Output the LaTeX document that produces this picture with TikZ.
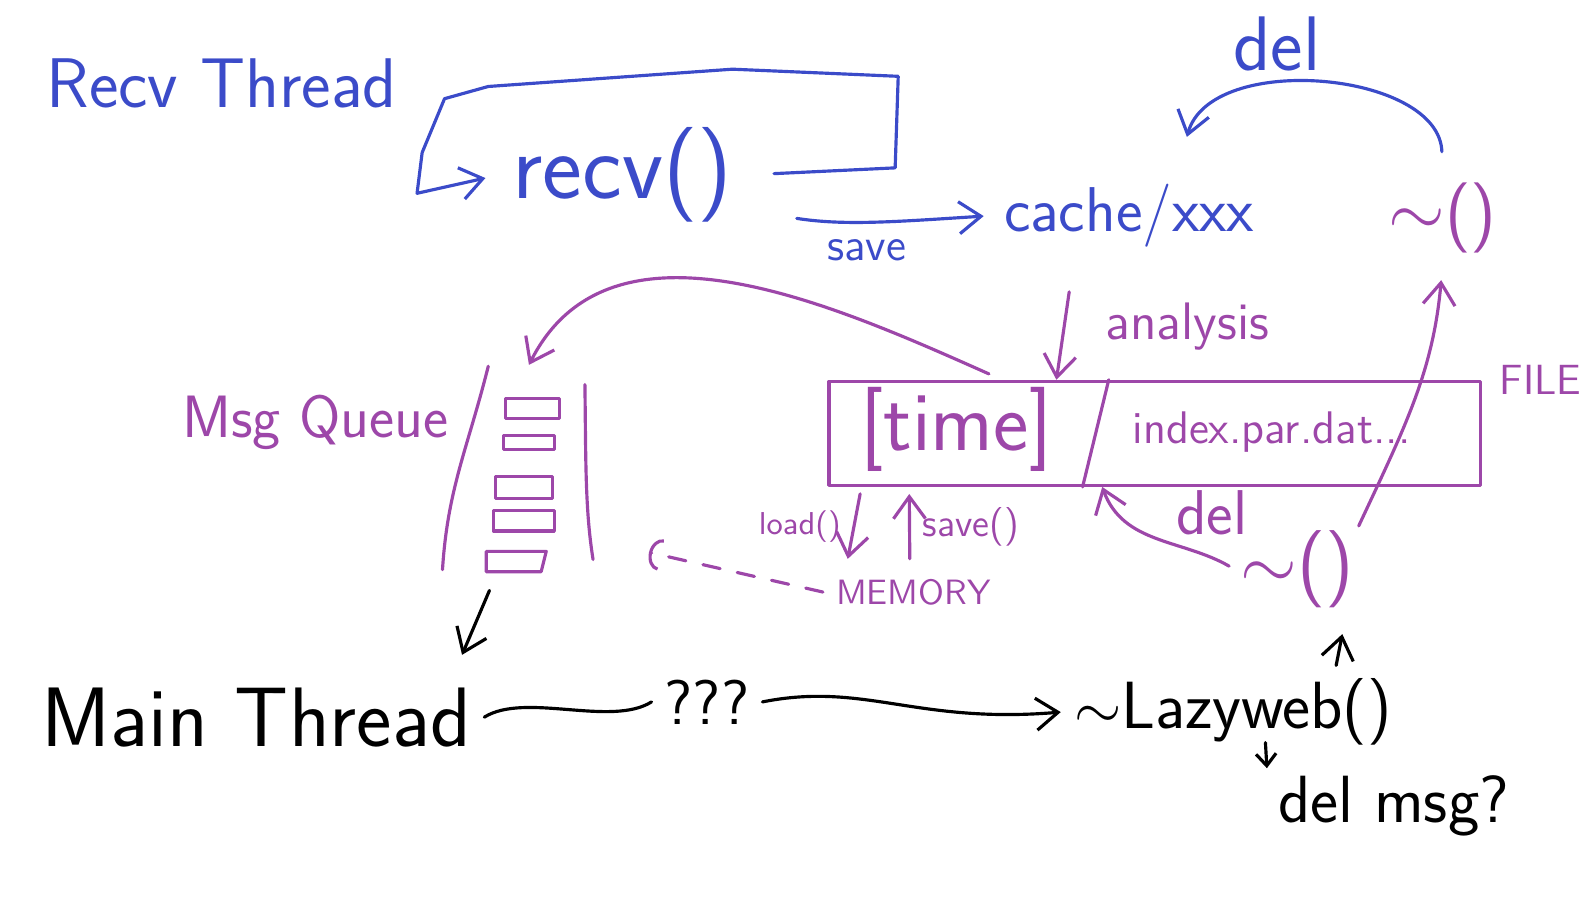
\documentclass[tikz,border=0pt]{standalone}
\usepackage{tikz}
\usetikzlibrary{positioning,arrows.meta,calc}
\usepackage{xcolor}
\definecolor{penblue}{HTML}{3B4BC9}
\definecolor{penpurple}{HTML}{9D47A9}
\newcommand{\fsz}[1]{\fontsize{#1}{#1}\selectfont}
\tikzset{
  >={Straight Barb[length=2.2mm,width=3.2mm]},
  bluepen/.style={draw=penblue, text=penblue},
  purplepen/.style={draw=penpurple, text=penpurple},
  inkpen/.style={draw=black, text=black},
  bluetext/.style={text=penblue},
  purpletext/.style={text=penpurple},
  inktext/.style={text=black},
}

\begin{document}
\begin{tikzpicture}[
  x=0.10172mm, y=-0.10172mm,
  line width=0.9pt, line cap=round, line join=round,
  every node/.style={font=\sffamily},
]
\useasboundingbox (0,0) rectangle (1568,900);

% recv thread
\node[bluetext, font=\sffamily\fsz{20}] (recvthread) at (218,82) {Recv Thread};
\node[bluetext, font=\sffamily\fsz{27}] (recv) at (612,172) {recv()};
\node[bluetext, font=\sffamily\fsz{18}] (cache) at (1110,212) {cache/xxx};
\node[purpletext, font=\sffamily\fsz{20}] (dtorup) at (1418,214) {$\sim$()};

\draw[bluepen,->,shorten <=8pt,shorten >=4pt] (recv.east) -- (880,165) -- (883,75) -- (720,68) -- (480,85) -- (437,97) -- (415,150) -- (410,190) -- (recv.west);
\draw[bluepen,->,shorten >=2pt] ($(recv.south east)+(50,-17)$) .. controls (830,222) and (880,218) .. (cache.west)
  node[pos=0.45, below=1pt, font=\sffamily\fsz{13}] {save};
\draw[bluepen,->,shorten <=5pt,shorten >=10pt] (dtorup.north) .. controls (1415,70) and (1190,50) .. ($(cache.north)!0.35!(cache.north east)$)
  node[pos=0.62, above=2pt, font=\sffamily\fsz{22}] {del};

% msg queue
\node[purpletext, font=\sffamily\fsz{17}] (msgqueue) at (310,415) {Msg Queue};
\node[minimum width=15.3mm, minimum height=20.3mm] (queue) at (520,460) {};
\draw[purplepen] (480,360) .. controls (460,440) and (440,480) .. (435,560);
\draw[purplepen] (575,378) .. controls (576,450) and (575,500) .. (583,550);
\draw[purplepen] (497,392) rectangle (550,411);
\draw[purplepen] (495,428) rectangle (545,442);
\draw[purplepen] (487,468) rectangle (543,490);
\draw[purplepen] (485,502) rectangle (545,522);
\draw[purplepen] (478,542) -- (537,542) -- (532,562) -- (478,562) -- cycle;

% file
\node[draw=penpurple, minimum width=65.1mm, minimum height=10.4mm] (file) at (1135,426) {};
\node[purpletext, font=\sffamily\fsz{24}] (time) at (940,422) {[time]};
\node[purpletext, font=\sffamily\fsz{13}] (index) at (1250,425) {index.par.dat...};
\node[purpletext, font=\sffamily\fsz{12}, right=0.5mm of file.north east] (filelabel) {FILE};
\draw[purplepen] ($(file.south west)!0.39!(file.south east)$) -- ($(file.north west)!0.43!(file.north east)$);

\draw[purplepen,->,shorten <=9pt] ($(cache.south west)!0.3!(cache.south east)$) -- ($(file.north west)!0.35!(file.north east)$)
  node[pos=0.55, right=8pt, font=\sffamily\fsz{15}] {analysis};
\draw[purplepen,->] ($(time.north)!0.3!(time.north east)$) .. controls (820,300) and (600,200) .. (queue.north);

% memory
\node[purpletext, font=\sffamily\fsz{10}] (memory) at (898,582) {MEMORY};
\coordinate (qnear) at (638,543);
\draw[purplepen,->,shorten >=2pt,shorten <=2pt] ($(file.south west)!0.052!(file.south east)$) -- ($(memory.north west)!0.13!(memory.north east)$)
  node[midway, left, font=\sffamily\fsz{9}] {load()};
\draw[purplepen,->,shorten >=2pt,shorten <=2pt] ($(memory.north west)!0.48!(memory.north east)$) -- ($(file.south west)!0.125!(file.south east)$)
  node[midway, right, font=\sffamily\fsz{11}] {save()};
\draw[purplepen, dash pattern=on 5pt off 5pt, -{Arc Barb[length=1.2mm,width=3.2mm]}] (memory.west) -- (qnear);

% destructor
\node[purpletext, font=\sffamily\fsz{22}, inner sep=1pt] (dtorlow) at (1275,560) {$\sim$()};
\draw[purplepen,->,shorten <=2pt] (dtorlow.west) to[out=150,in=-70]
  node[pos=0.42, above right=1pt, font=\sffamily\fsz{18}, inner sep=1pt] {del} ($(file.south west)!0.42!(file.south east)$);
\draw[purplepen,->,shorten >=4pt] (dtorlow.north east) to[out=65,in=-95] (dtorup.south);

% main thread
\node[inktext, font=\sffamily\fsz{24}] (mainthread) at (252,705) {Main Thread};
\node[inktext, font=\sffamily\fsz{18}] (huh) at (695,690) {???};
\node[inktext, font=\sffamily\fsz{19}] (lazyweb) at (1212,700) {$\sim$Lazyweb()};
\node[inktext, font=\sffamily\fsz{19}] (delmsg) at (1370,792) {del msg?};
\coordinate (tick) at (1244,730);

\draw[inkpen,->,shorten <=6pt,shorten >=6pt] ($(queue.south west)!0.3!(queue.south east)$) -- ($(mainthread.north east)+(-30,0)$);
\draw[inkpen] (mainthread.east) .. controls +(40,-25) and +(-40,25) .. (huh.west);
\draw[inkpen,->] (huh.east) .. controls (850,670) and (900,712) .. (lazyweb.west);
\draw[inkpen,->,shorten >=6pt] ($(lazyweb.north)!0.6!(lazyweb.north east)$) -- ($(dtorlow.south)!0.8!(dtorlow.south east)$);
\draw[inkpen,-{Straight Barb[length=1.2mm,width=2mm]}] (tick) -- ($(delmsg.north west)+(2,6)$);
\end{tikzpicture}
\end{document}
